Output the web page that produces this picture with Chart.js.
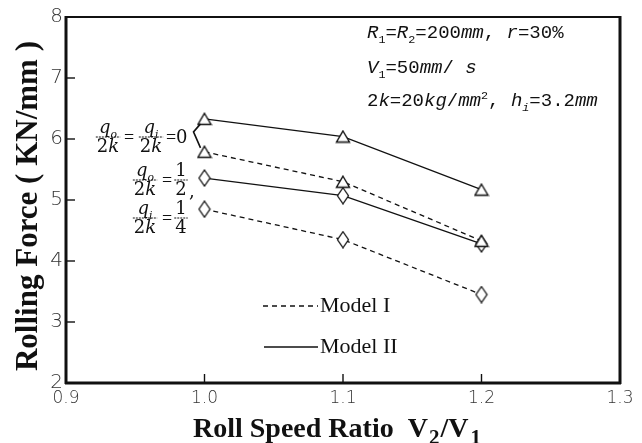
<!DOCTYPE html>
<html>
<head>
<meta charset="utf-8">
<script src="https://cdn.jsdelivr.net/npm/chart.js@4/dist/chart.umd.min.js"></script>
<style>
html,body{margin:0;padding:0;background:#fff;}
#wrap{width:642px;height:443px;}
</style>
</head>
<body>
<div id="wrap"><canvas id="c" width="642" height="443"></canvas></div>
<script>
// ---- data ----
const xValues = [1.0, 1.1, 1.2];
const model1Zero = [5.79, 5.30, 4.33];   // Model I, q/2k = 0 (triangles, dashed)
const model2Zero = [6.33, 6.04, 5.17];   // Model II, q/2k = 0 (triangles, solid)
const model2Frac = [5.36, 5.07, 4.28];   // Model II, qo/2k=1/2, qi/2k=1/4 (diamonds, solid)
const model1Frac = [4.85, 4.35, 3.45];   // Model I, qo/2k=1/2, qi/2k=1/4 (diamonds, dashed)
const xTicks = [0.9, 1.0, 1.1, 1.2, 1.3];
const yTicks = [2, 3, 4, 5, 6, 7, 8];
const legendLabels = ['Model I', 'Model II'];

const INK = '#111';

function makeTriangle() {
  const c = document.createElement('canvas');
  c.width = 16; c.height = 14;
  const g = c.getContext('2d');
  g.beginPath();
  g.moveTo(8, 1.5); g.lineTo(14.5, 12.5); g.lineTo(1.5, 12.5); g.closePath();
  g.fillStyle = '#fff'; g.fill();
  g.strokeStyle = INK; g.lineWidth = 1.4; g.stroke();
  return c;
}
function makeDiamond() {
  const c = document.createElement('canvas');
  c.width = 14; c.height = 18;
  const g = c.getContext('2d');
  g.beginPath();
  g.moveTo(7, 1); g.lineTo(12.5, 9); g.lineTo(7, 17); g.lineTo(1.5, 9); g.closePath();
  g.fillStyle = '#fff'; g.fill();
  g.strokeStyle = INK; g.lineWidth = 1.3; g.stroke();
  return c;
}
const tri = makeTriangle();
const dia = makeDiamond();

function pts(ys) { return xValues.map((x, i) => ({x: x, y: ys[i]})); }

function ds(label, ys, dashed, style) {
  return {
    label: label,
    data: pts(ys),
    borderColor: INK,
    borderWidth: 1.3,
    borderDash: dashed ? [5, 4] : [],
    pointStyle: style,
    pointRadius: 7,
    backgroundColor: '#fff',
    showLine: true,
    tension: 0,
    fill: false
  };
}

function fontFor(p, o) {
  const s = p.sub || p.sup ? o.size * (o.subScale || 0.62) : o.size;
  return (p.it ? 'italic ' : '') + (o.weight || 'normal') + ' ' + s + 'px ' + (p.fam || o.family);
}
function richWidth(ctx, parts, o) {
  let w = 0;
  parts.forEach(p => {
    ctx.font = fontFor(p, o);
    w += ctx.measureText(p.t).width + (p.gap || 0);
  });
  return w;
}
function drawRich(ctx, x, y, parts, o) {
  let cx = x;
  ctx.textAlign = 'left';
  ctx.textBaseline = 'alphabetic';
  parts.forEach(p => {
    let dy = 0;
    if (p.sub) dy = o.size * 0.25;
    if (p.sup) dy = -o.size * 0.38;
    ctx.font = fontFor(p, o);
    ctx.fillText(p.t, cx, y + dy);
    cx += ctx.measureText(p.t).width + (p.gap || 0);
  });
  return cx - x;
}
function drawCentered(ctx, cx, y, parts, o) {
  const w = richWidth(ctx, parts, o);
  drawRich(ctx, cx - w / 2, y, parts, o);
  return w;
}
function drawFrac(ctx, cx, barY, num, den, o) {
  const wn = drawCentered(ctx, cx, barY - 4, num, o);
  const wd = drawCentered(ctx, cx, barY + 15, den, o);
  const w = Math.max(wn, wd) + 2;
  ctx.save();
  ctx.lineWidth = 1;
  ctx.setLineDash([2, 1]);
  ctx.beginPath(); ctx.moveTo(cx - w / 2, barY); ctx.lineTo(cx + w / 2, barY); ctx.stroke();
  ctx.restore();
}

const decor = {
  id: 'decor',
  beforeDraw(chart) {
    const ctx = chart.ctx;
    ctx.save();
    ctx.fillStyle = '#fff';
    ctx.fillRect(0, 0, chart.width, chart.height);
    ctx.restore();
  },
  afterDraw(chart) {
    const ctx = chart.ctx;
    const a = chart.chartArea;
    const xs = chart.scales.x, ys = chart.scales.y;
    ctx.save();
    ctx.strokeStyle = INK;
    ctx.fillStyle = INK;
    // frame
    ctx.lineWidth = 2;
    ctx.beginPath(); ctx.moveTo(a.left, a.top); ctx.lineTo(a.right, a.top); ctx.stroke();
    ctx.lineWidth = 3;
    ctx.beginPath(); ctx.moveTo(a.right, a.top - 1); ctx.lineTo(a.right, a.bottom + 1); ctx.stroke();
    ctx.beginPath(); ctx.moveTo(a.left, a.top - 1); ctx.lineTo(a.left, a.bottom + 1); ctx.stroke();
    ctx.beginPath(); ctx.moveTo(a.left - 1, a.bottom); ctx.lineTo(a.right + 1, a.bottom); ctx.stroke();
    // inward ticks
    ctx.lineWidth = 1.4;
    yTicks.forEach(v => {
      const py = ys.getPixelForValue(v);
      ctx.beginPath(); ctx.moveTo(a.left, py); ctx.lineTo(a.left + 9, py); ctx.stroke();
    });
    xTicks.forEach(v => {
      const px = xs.getPixelForValue(v);
      ctx.beginPath(); ctx.moveTo(px, a.bottom); ctx.lineTo(px, a.bottom - 9); ctx.stroke();
    });

    // axis titles
    const tf = {size: 28, family: '"Liberation Serif", "Times New Roman", serif', weight: 'bold', subScale: 0.75};
    drawRich(ctx, 193, 437, [
      {t: 'Roll Speed Ratio  '}, {t: 'V', gap: 1}, {t: '2', sub: true, gap: 1}, {t: '/V', gap: 2}, {t: '1', sub: true}
    ], tf);
    ctx.save();
    ctx.translate(37, 206);
    ctx.rotate(-Math.PI / 2);
    ctx.font = 'bold 31px "Liberation Serif", "Times New Roman", serif';
    ctx.textAlign = 'center';
    ctx.textBaseline = 'alphabetic';
    ctx.fillText('Rolling Force ( KN/mm )', 0, 0);
    ctx.restore();

    // parameter text (top right)
    const mf = {size: 19, family: '"Liberation Mono", "DejaVu Sans Mono", monospace'};
    drawRich(ctx, 367, 38, [
      {t: 'R', it: true}, {t: '1', sub: true}, {t: '='}, {t: 'R', it: true}, {t: '2', sub: true},
      {t: '=200'}, {t: 'mm', it: true}, {t: ', '}, {t: 'r', it: true}, {t: '=30%'}
    ], mf);
    drawRich(ctx, 367, 73, [
      {t: 'V', it: true}, {t: '1', sub: true}, {t: '=50'}, {t: 'mm', it: true}, {t: '/ '}, {t: 's', it: true}
    ], mf);
    drawRich(ctx, 367, 106, [
      {t: '2'}, {t: 'k', it: true}, {t: '=20'}, {t: 'kg', it: true}, {t: '/'}, {t: 'mm', it: true},
      {t: '2', sup: true}, {t: ', '}, {t: 'h', it: true}, {t: 'i', sub: true, it: true}, {t: '=3.2'}, {t: 'mm', it: true}
    ], mf);

    // legend
    const lf = {size: 22, family: '"Liberation Serif", "Times New Roman", serif'};
    ctx.lineWidth = 1.3;
    ctx.save();
    ctx.setLineDash([5, 4]);
    ctx.beginPath(); ctx.moveTo(263, 306); ctx.lineTo(318, 306); ctx.stroke();
    ctx.restore();
    ctx.beginPath(); ctx.moveTo(264, 347); ctx.lineTo(318, 347); ctx.stroke();
    drawRich(ctx, 320, 312, [{t: legendLabels[0]}], lf);
    drawRich(ctx, 320, 353, [{t: legendLabels[1]}], lf);

    // fraction labels
    const ff = {size: 18, family: '"DejaVu Serif", "Liberation Serif", serif', subScale: 0.6};
    const ef = {size: 18, family: '"Liberation Serif", serif'};
    const qo = [{t: 'q', it: true}, {t: 'o', sub: true, it: true}];
    const qi = [{t: 'q', it: true}, {t: 'i', sub: true, it: true}];
    const tk = [{t: '2'}, {t: 'k', it: true}];
    drawFrac(ctx, 108, 137, qo, tk, ff);
    drawRich(ctx, 124, 143, [{t: '='}], ef);
    drawFrac(ctx, 151, 137, qi, tk, ff);
    drawRich(ctx, 166, 143, [{t: '='}], ef);
    drawRich(ctx, 176, 143, [{t: '0'}], ff);
    drawFrac(ctx, 145, 180, qo, tk, ff);
    drawRich(ctx, 162, 186, [{t: '='}], ef);
    drawFrac(ctx, 181, 180, [{t: '1'}], [{t: '2'}], ff);
    drawRich(ctx, 189, 197, [{t: ','}], ff);
    drawFrac(ctx, 145, 218, qi, tk, ff);
    drawRich(ctx, 162, 224, [{t: '='}], ef);
    drawFrac(ctx, 181, 218, [{t: '1'}], [{t: '4'}], ff);

    // pointer from "=0" to the two triangles at 1.0
    const px0 = xs.getPixelForValue(xValues[0]);
    const yA = ys.getPixelForValue(model2Zero[0]);
    const yB = ys.getPixelForValue(model1Zero[0]);
    ctx.lineWidth = 1.6;
    ctx.beginPath();
    ctx.moveTo(px0 - 4, yA + 5);
    ctx.lineTo(px0 - 11, yA + 13);
    ctx.lineTo(px0 - 4, yB - 4);
    ctx.stroke();
    ctx.restore();
  }
};

new Chart(document.getElementById('c'), {
  type: 'scatter',
  data: {
    datasets: [
      ds('Model I q=0', model1Zero, true, tri),
      ds('Model II q=0', model2Zero, false, tri),
      ds('Model II q>0', model2Frac, false, dia),
      ds('Model I q>0', model1Frac, true, dia)
    ]
  },
  options: {
    responsive: false,
    animation: false,
    layout: {padding: {top: 17, right: 22, left: 0, bottom: 0}},
    plugins: {legend: {display: false}, tooltip: {enabled: false}},
    scales: {
      x: {
        type: 'linear', min: 0.9, max: 1.3,
        afterFit(s) { s.height = 60; },
        afterBuildTicks(s) { s.ticks = xTicks.map(v => ({value: v})); },
        ticks: {
          callback: v => v.toFixed(1),
          font: {family: '"DejaVu Sans", sans-serif', size: 17, weight: '300'},
          color: '#333', padding: 5, maxRotation: 0
        },
        grid: {display: false, drawTicks: false},
        border: {display: false}
      },
      y: {
        type: 'linear', min: 2, max: 8,
        afterFit(s) { s.width = 66; },
        afterBuildTicks(s) { s.ticks = yTicks.map(v => ({value: v})); },
        ticks: {
          font: {family: '"DejaVu Sans", sans-serif', size: 20, weight: '300'},
          color: '#333', padding: 3
        },
        grid: {display: false, drawTicks: false},
        border: {display: false}
      }
    }
  },
  plugins: [decor]
});
</script>
</body>
</html>
